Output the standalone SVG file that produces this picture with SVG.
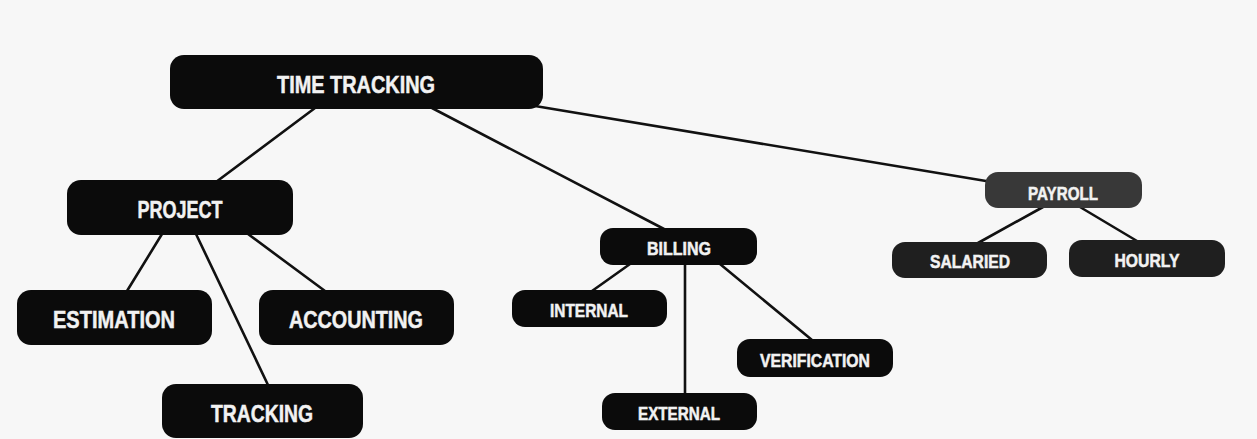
<svg xmlns="http://www.w3.org/2000/svg" width="1257" height="439" viewBox="0 0 1257 439">
  <style>
    .bg { fill: #f7f7f7; }
    .edge { stroke: #111; stroke-width: 2.6; fill: none; stroke-linecap: round; }
    .box { fill: #0b0b0b; }
    .box.mid { fill: #383838; }
    .box.dark { fill: #1f1f1f; }
    .lbl { fill: #f2f2f2; stroke: #f2f2f2; stroke-width: 0.5; font-family: "Liberation Sans Narrow", "Liberation Sans", Arial, sans-serif; font-weight: bold; text-anchor: middle; }
    .big { font-size: 24px; }
    .small { font-size: 18px; }
  </style>
  <rect class="bg" x="0" y="0" width="1257" height="439"/>

  <g id="connectors">
    <line class="edge" x1="315" y1="108" x2="216" y2="182"/>
    <line class="edge" x1="432" y1="108" x2="664" y2="229"/>
    <line class="edge" x1="535" y1="106" x2="986" y2="181"/>
    <line class="edge" x1="162" y1="234" x2="127" y2="291"/>
    <line class="edge" x1="196" y1="234" x2="268" y2="385"/>
    <line class="edge" x1="248" y1="234" x2="325" y2="291"/>
    <line class="edge" x1="630" y1="264" x2="592" y2="291"/>
    <line class="edge" x1="685" y1="264" x2="685" y2="394"/>
    <line class="edge" x1="720" y1="264" x2="812" y2="340"/>
    <line class="edge" x1="1043" y1="207" x2="978" y2="243"/>
    <line class="edge" x1="1080" y1="207" x2="1137" y2="241"/>
  </g>

  <g id="time-tracking">
    <rect class="box" x="170" y="55" width="373" height="54" rx="14"/>
    <text class="lbl big" x="356" y="93" textLength="158" lengthAdjust="spacingAndGlyphs">TIME TRACKING</text>
  </g>
  <g id="project">
    <rect class="box" x="67" y="180" width="226" height="55" rx="14"/>
    <text class="lbl big" x="180" y="218" textLength="85" lengthAdjust="spacingAndGlyphs">PROJECT</text>
  </g>
  <g id="estimation">
    <rect class="box" x="17" y="290" width="195" height="55" rx="14"/>
    <text class="lbl big" x="114" y="328" textLength="122" lengthAdjust="spacingAndGlyphs">ESTIMATION</text>
  </g>
  <g id="accounting">
    <rect class="box" x="259" y="290" width="195" height="55" rx="14"/>
    <text class="lbl big" x="356" y="328" textLength="134" lengthAdjust="spacingAndGlyphs">ACCOUNTING</text>
  </g>
  <g id="tracking">
    <rect class="box" x="162" y="384" width="201" height="54" rx="14"/>
    <text class="lbl big" x="262" y="422" textLength="102" lengthAdjust="spacingAndGlyphs">TRACKING</text>
  </g>
  <g id="billing">
    <rect class="box" x="600" y="228" width="157" height="37" rx="13"/>
    <text class="lbl small" x="679" y="255" textLength="64" lengthAdjust="spacingAndGlyphs">BILLING</text>
  </g>
  <g id="internal">
    <rect class="box" x="512" y="290" width="155" height="37" rx="13"/>
    <text class="lbl small" x="589" y="317" textLength="78" lengthAdjust="spacingAndGlyphs">INTERNAL</text>
  </g>
  <g id="verification">
    <rect class="box" x="737" y="339" width="156" height="38" rx="13"/>
    <text class="lbl small" x="815" y="367" textLength="110" lengthAdjust="spacingAndGlyphs">VERIFICATION</text>
  </g>
  <g id="external">
    <rect class="box" x="602" y="393" width="155" height="37" rx="13"/>
    <text class="lbl small" x="679" y="420" textLength="82" lengthAdjust="spacingAndGlyphs">EXTERNAL</text>
  </g>
  <g id="payroll">
    <rect class="box mid" x="985" y="172" width="157" height="36" rx="13"/>
    <text class="lbl small" x="1063" y="200" textLength="70" lengthAdjust="spacingAndGlyphs">PAYROLL</text>
  </g>
  <g id="salaried">
    <rect class="box dark" x="892" y="242" width="155" height="36" rx="13"/>
    <text class="lbl small" x="970" y="268" textLength="80" lengthAdjust="spacingAndGlyphs">SALARIED</text>
  </g>
  <g id="hourly">
    <rect class="box dark" x="1069" y="240" width="156" height="37" rx="13"/>
    <text class="lbl small" x="1147" y="267" textLength="65" lengthAdjust="spacingAndGlyphs">HOURLY</text>
  </g>
</svg>
